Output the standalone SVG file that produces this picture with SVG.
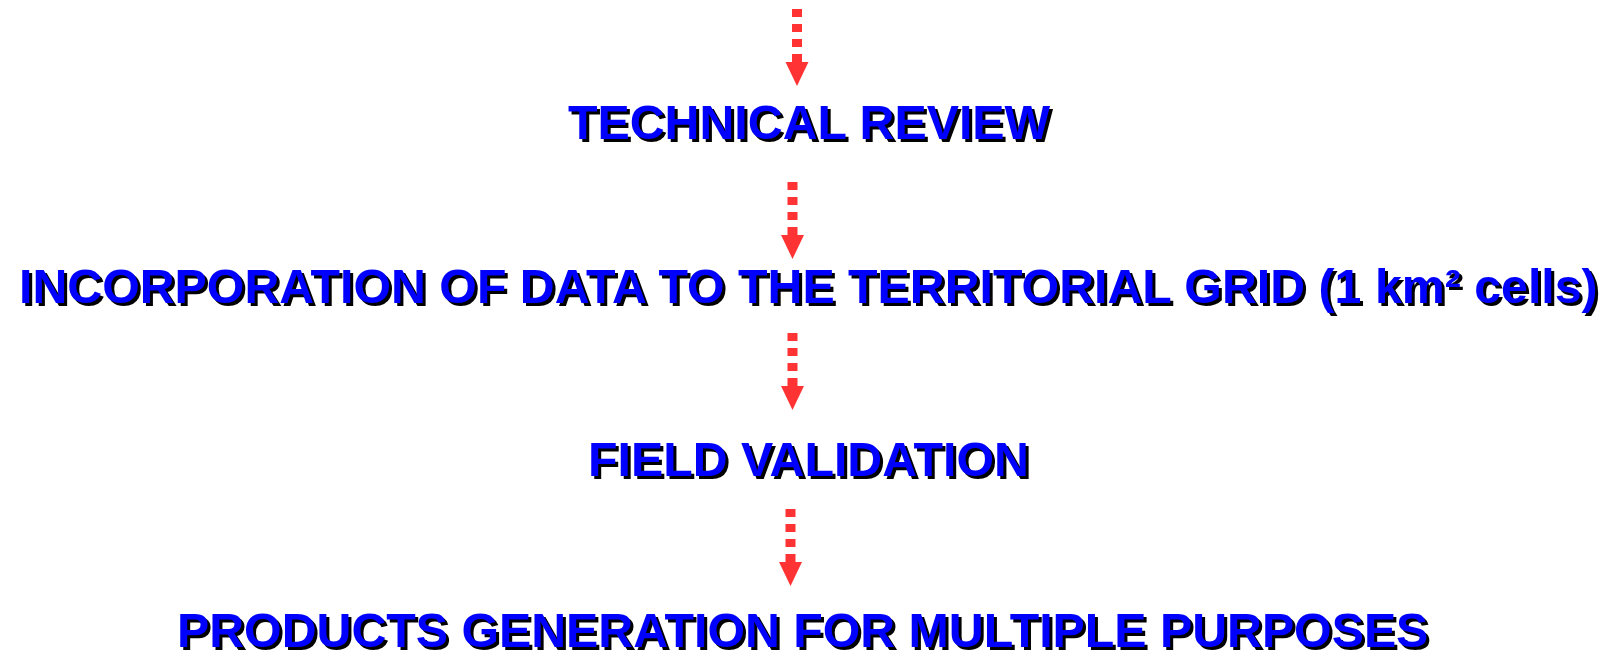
<svg xmlns="http://www.w3.org/2000/svg" xmlns:xlink="http://www.w3.org/1999/xlink" width="1604" height="657" viewBox="0 0 1604 657">
<style>
.t{font-family:"Liberation Sans",Arial,sans-serif;font-weight:bold;font-size:48.3px}
.sh{fill:#000}
.fg{fill:#0000FF}
.conn line{stroke:#FF3333;stroke-width:10;stroke-dasharray:8 7;fill:none}
</style>
<defs>
<marker id="ah" markerUnits="userSpaceOnUse" markerWidth="24" markerHeight="24" viewBox="0 -11 23 22" refX="0" refY="0" orient="auto">
<path d="M0,-11 L0,11 L23,0 Z" fill="#FF3333"/>
</marker>
</defs>
<rect width="1604" height="657" fill="#fff"/>
<g id="connectors" class="conn">
<line x1="797" y1="9" x2="797" y2="62" marker-end="url(#ah)"/>
<line x1="792.5" y1="182" x2="792.5" y2="235" marker-end="url(#ah)"/>
<line x1="792.5" y1="333" x2="792.5" y2="386" marker-end="url(#ah)"/>
<line x1="790.5" y1="509" x2="790.5" y2="562" marker-end="url(#ah)"/>
</g>
<g id="technical-review" class="t">
<text class="sh" x="571" y="142">TECHNICAL REVIEW</text>
<text class="fg" x="568" y="139">TECHNICAL REVIEW</text>
</g>
<g id="incorporation" class="t">
<text class="sh" x="22" y="306">INCORPORATION OF DATA TO THE TERRITORIAL GRID (1 km² cells)</text>
<text class="fg" x="19" y="303">INCORPORATION OF DATA TO THE TERRITORIAL GRID (1 km² cells)</text>
</g>
<g id="field-validation" class="t">
<text class="sh" x="591" y="479">FIELD VALIDATION</text>
<text class="fg" x="588" y="476">FIELD VALIDATION</text>
</g>
<g id="products" class="t">
<text class="sh" x="180" y="650">PRODUCTS GENERATION FOR MULTIPLE PURPOSES</text>
<text class="fg" x="177" y="647">PRODUCTS GENERATION FOR MULTIPLE PURPOSES</text>
</g>
</svg>
